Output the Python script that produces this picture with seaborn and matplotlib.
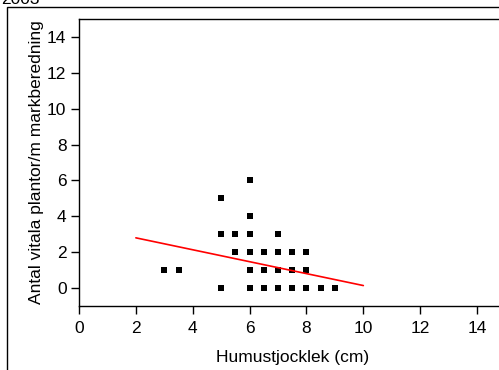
import matplotlib
matplotlib.use("Agg")
import matplotlib.pyplot as plt
import seaborn as sns
import pandas as pd
from matplotlib.patches import Rectangle

sns.set_theme(style="white")
plt.rcParams['font.family'] = ['Liberation Sans', 'DejaVu Sans']

# Data
humus_x = [6, 5, 6, 5, 5.5, 6, 7,
           5.5, 6, 6.5, 7, 7.5, 8,
           3, 3.5, 6, 6.5, 7, 7.5, 8,
           5, 6, 6.5, 7, 7.5, 8, 8.5, 9]
plants_y = [6, 5, 4, 3, 3, 3, 3,
            2, 2, 2, 2, 2, 2,
            1, 1, 1, 1, 1, 1, 1,
            0, 0, 0, 0, 0, 0, 0, 0]
fit_x = [2, 10]
fit_y = [2.80, 0.14]

x_ticks = [0, 2, 4, 6, 8, 10, 12, 14]
y_ticks = [0, 2, 4, 6, 8, 10, 12, 14]

df = pd.DataFrame({"x": humus_x, "y": plants_y})
fit = pd.DataFrame({"x": fit_x, "y": fit_y})

W, H = 499, 370
fig = plt.figure(figsize=(W / 100, H / 100), dpi=100)
ax = fig.add_axes([79 / W, (H - 306) / H, 426.5 / W, (306 - 19) / H])

sns.scatterplot(data=df, x="x", y="y", ax=ax, marker="s", color="black",
                s=16, linewidth=0, legend=False)
sns.lineplot(data=fit, x="x", y="y", ax=ax, color="#ff0000", linewidth=1.2,
             legend=False)

ax.set_xlim(0, 15)
ax.set_ylim(-1, 15)
ax.set_xticks(x_ticks)
ax.set_yticks(y_ticks)
ax.set_xticklabels([str(t) for t in x_ticks], fontsize=12.5)
ax.set_yticklabels([str(t) for t in y_ticks], fontsize=12.5)
ax.tick_params(axis="both", direction="out", length=6, width=1.0,
               color="black", labelcolor="black", pad=3,
               bottom=True, left=True)
ax.tick_params(axis="x", pad=5)
for sp in ax.spines.values():
    sp.set_color("black")
    sp.set_linewidth(1.0)
ax.set_xlabel("Humustjocklek (cm)", fontsize=12.5, color="black", labelpad=10)
ax.set_ylabel("Antal vitala plantor/m markberedning", fontsize=12.5,
              color="black", labelpad=2)
ax.grid(False)

# outer frame
fig.add_artist(Rectangle((7 / W, -0.5), 2, 1.5 - 7 / H, transform=fig.transFigure,
                         fill=False, edgecolor="black", linewidth=1.0))
fig.text(1 / W, 1 - 4 / H, "2003", fontsize=12.5, ha="left", va="baseline",
         color="black")

fig.savefig("out.png", dpi=100)
